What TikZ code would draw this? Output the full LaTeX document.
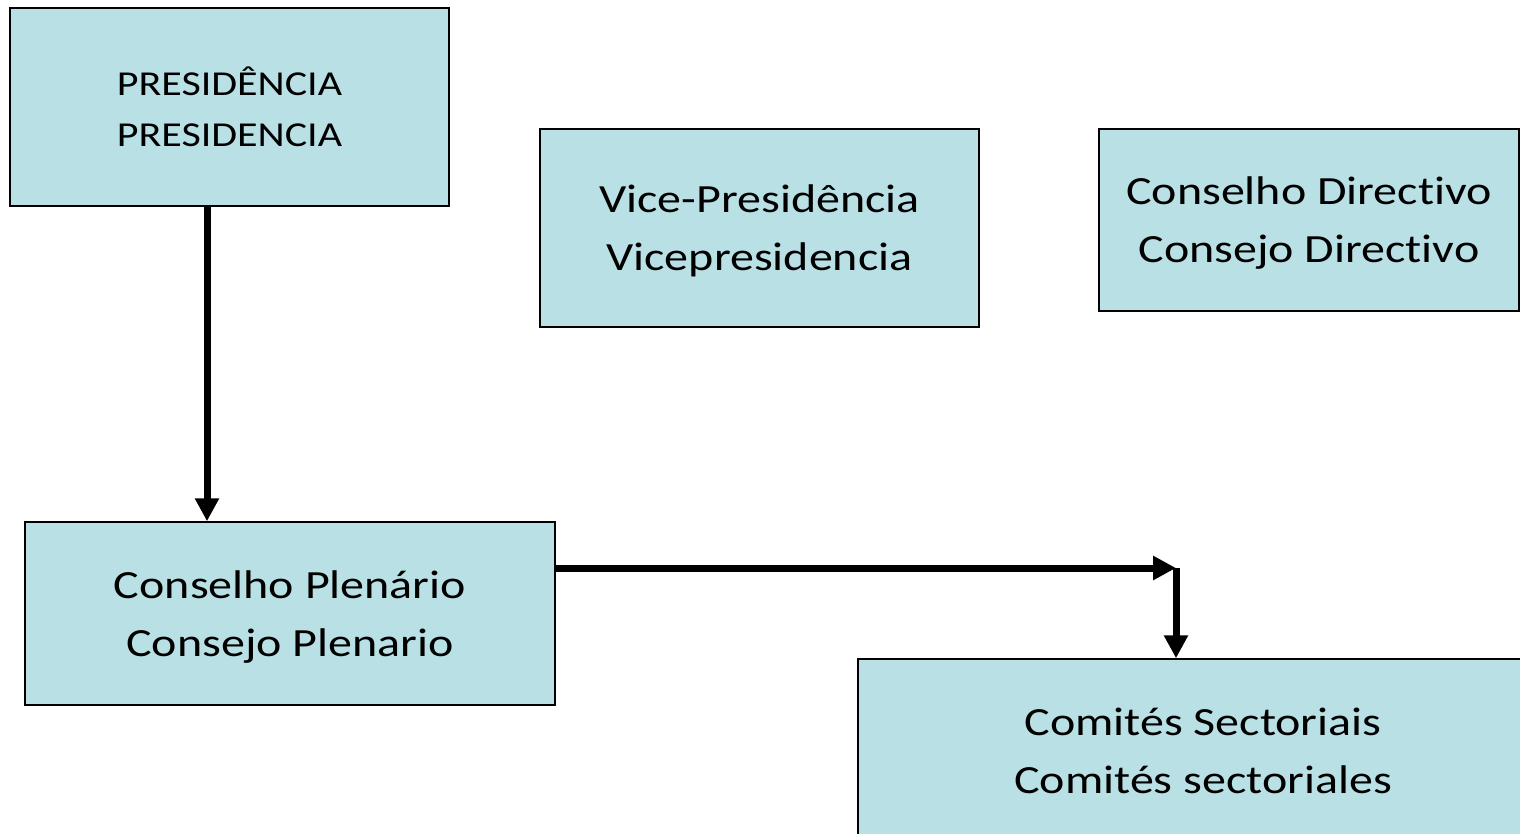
\documentclass[tikz,border=0pt]{standalone}
\usepackage{fontspec}
\setmainfont{Carlito}[FakeStretch=1.2, Ligatures=NoCommon]
\usetikzlibrary{arrows.meta}
\definecolor{boxfill}{RGB}{185,224,228}
\tikzset{
  orgbox/.style={draw=black, line width=0.75pt, fill=boxfill, align=center,
    inner sep=0pt, text depth=0pt, font=\fontsize{20}{29}\selectfont},
  orgarrow/.style={line width=3.5pt, -{Triangle[length=11.5pt,width=11.5pt]}}
}
\begin{document}
\begin{tikzpicture}[x=0.5pt, y=-0.5pt]
\useasboundingbox (0,0) rectangle (1520,834);
\clip (0,0) rectangle (1520,834);
\fill[white] (0,0) rectangle (1520,834);

\node[orgbox, minimum width=219.5pt, minimum height=99pt,
  font=\fontsize{17.5}{25.5}\selectfont] (pres) at (229.5,107) {PRESIDÊNCIA\\PRESIDENCIA};
\node[orgbox, minimum width=219.5pt, minimum height=99pt] (vice) at (759.5,228) {Vice-Presidência\\Vicepresidencia};
\node[orgbox, minimum width=210pt, minimum height=91pt] (dir) at (1309,220) {Conselho Directivo\\Consejo Directivo};
\node[orgbox, minimum width=265pt, minimum height=91.5pt] (plen) at (290,613.5) {Conselho Plenário\\Consejo Plenario};
\node[orgbox, minimum width=345pt, minimum height=92pt] (comit) at (1203,751) {Comités Sectoriais\\Comités sectoriales};

% connectors
\coordinate (bend) at (1176,568);
\draw[orgarrow] ([xshift=-11.25pt]pres.south) -- ([xshift=-11.25pt]pres.south |- plen.north);
\draw[orgarrow] (plen.east |- bend) -- (bend);
\draw[orgarrow] (bend) -- (comit.north -| bend);
\end{tikzpicture}
\end{document}
